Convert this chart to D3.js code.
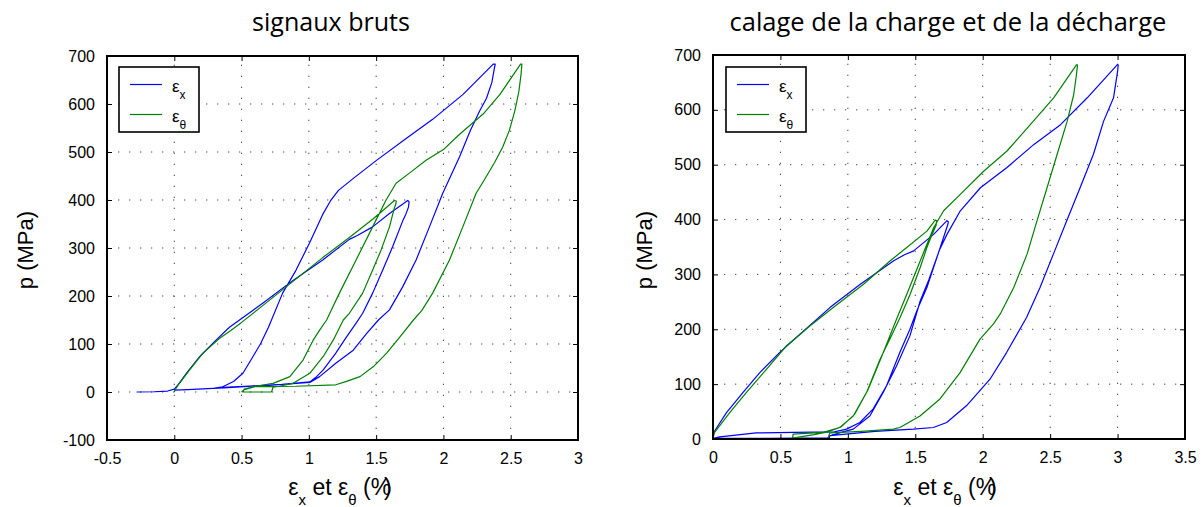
<!DOCTYPE html>
<html><head><meta charset="utf-8">
<script src="https://cdn.jsdelivr.net/npm/d3@7"></script>
<style>
body{margin:0;background:#fff}
svg text{font-family:"Liberation Sans",Arial,sans-serif;fill:#000}
</style>
</head><body>
<svg id="c" width="1204" height="507"></svg>
<script>
// ---------- data ----------
const titles = ["signaux bruts", "calage de la charge et de la décharge"];
const leftXTicks = [-0.5, 0, 0.5, 1, 1.5, 2, 2.5, 3];
const rightXTicks = [0, 0.5, 1, 1.5, 2, 2.5, 3, 3.5];
const leftYTicks = [-100, 0, 100, 200, 300, 400, 500, 600, 700];
const rightYTicks = [0, 100, 200, 300, 400, 500, 600, 700];
const seriesNames = ["x", "θ"];

// raw signals, eps_x : [strain %, p MPa]
const brutsEpsX = [
  [-0.28,0],[-0.15,0.5],[-0.05,2],[0,6],
  [0.03,16],[0.09,39],[0.19,74],[0.31,108],[0.41,135],[0.583,170],[0.657,185],[0.88,232],[1.103,275],[1.301,318],[1.36,326],[1.474,344],[1.599,372],[1.735,399],[1.745,396],
  [1.74,385],[1.72,370],[1.697,356],[1.623,303],[1.549,254],[1.474,206],[1.4,164],[1.355,145],[1.28,115],[1.2,81],[1.107,46],[1.05,30],[1.007,21],
  [0.8,16],[0.6,13],[0.4,10],[0.3,8],
  [0.36,11],[0.44,22],[0.51,39],[0.585,74],[0.64,100],[0.7,135],[0.805,206],[0.905,254],[1.004,310],[1.103,370],[1.16,398],[1.22,420],[1.326,444],[1.5,482],[1.723,528],[1.92,568],[2.146,620],[2.37,683],[2.385,683],
  [2.377,672],[2.36,645],[2.32,612],[2.27,586],[2.2,545],[2.12,490],[1.995,414],[1.896,344],[1.797,275],[1.697,219],[1.599,171],[1.517,150],[1.43,122],[1.33,87],[1.2,60],[1.08,32],[1.007,20],
  [0.7,14],[0.4,9],[0.1,5],[0,4]
];
// raw signals, eps_theta
const brutsEpsTheta = [
  [0,0],[0.01,6],
  [0.027,14],[0.114,46],[0.213,81],[0.337,112],[0.42,128],[0.5,145],[0.657,180],[0.88,230],[1.103,280],[1.301,322],[1.474,360],[1.574,384],[1.636,399],[1.65,398],
  [1.645,390],[1.636,384],[1.599,344],[1.537,296],[1.474,254],[1.4,206],[1.301,164],[1.256,150],[1.181,108],[1.107,74],[1.007,39],[0.883,18],[0.78,12],[0.734,10],[0.725,2],[0.72,0],
  [0.51,0],[0.52,6],[0.586,11],[0.734,18],[0.859,32],[0.958,67],[1.032,108],[1.08,129],[1.132,150],[1.227,206],[1.351,275],[1.474,344],[1.574,400],[1.648,435],[1.747,456],[1.871,483],[2.0,505],[2.12,537],[2.295,579],[2.42,620],[2.573,683],[2.583,683],
  [2.578,665],[2.56,625],[2.53,585],[2.49,545],[2.44,510],[2.38,478],[2.3,440],[2.243,414],[2.144,344],[2.045,275],[1.92,206],[1.84,170],[1.777,150],[1.677,115],[1.578,81],[1.48,53],[1.38,32],[1.28,22],[1.2,15],[0.9,12],[0.6,11],[0.52,5],[0.5,0]
];
// shifted ("calage"), eps_x
const calageEpsX = [
  [0,3],[0,10],[0.1,48],[0.223,85],[0.347,121],[0.495,158],[0.668,196],[0.869,240],[1.092,282],[1.34,325],[1.42,336],[1.488,343],[1.636,373],[1.735,398],[1.745,396],
  [1.74,390],[1.685,349],[1.636,313],[1.586,276],[1.512,234],[1.46,200],[1.386,158],[1.287,97],[1.188,55],[1.089,30],[0.99,18],[0.9,13],
  [0.6,12],[0.32,11],[0.05,4],[0,1],
  [0.4,1],[0.85,2],
  [0.87,6],[0.95,12],[1.04,18],[1.163,42],[1.262,85],[1.361,133],[1.46,188],[1.537,252],[1.6,290],[1.68,345],[1.735,373],[1.834,416],[1.983,458],[2.18,495],[2.38,537],[2.577,573],[2.775,622],[2.997,682],[3.005,682],
  [3.0,670],[2.97,622],[2.896,579],[2.821,519],[2.722,458],[2.623,398],[2.524,337],[2.425,276],[2.326,222],[2.178,158],[2.054,109],[1.881,61],[1.733,30],[1.634,21],[1.485,18],[1.2,14],[0.866,6],[0.86,0]
];
// shifted ("calage"), eps_theta
const calageEpsTheta = [
  [0,2],[0.012,12],[0.124,48],[0.248,85],[0.396,127],[0.545,170],[0.718,206],[0.894,240],[1.116,282],[1.314,325],[1.437,349],[1.586,379],[1.648,399],[1.658,398],
  [1.655,390],[1.62,370],[1.586,349],[1.537,313],[1.462,264],[1.388,222],[1.327,190],[1.238,145],[1.139,85],[1.04,42],[0.94,21],[0.817,12],[0.594,9],[0.59,1],
  [0.6,2],[0.75,8],[0.85,13],[0.95,22],[1.05,45],[1.15,90],[1.25,150],[1.36,218],[1.437,264],[1.537,325],[1.636,385],[1.71,416],[1.834,446],[2.007,488],[2.18,525],[2.353,573],[2.526,622],[2.695,682],[2.703,682],
  [2.695,664],[2.675,628],[2.626,579],[2.552,519],[2.477,458],[2.403,398],[2.329,337],[2.23,276],[2.13,228],[2.08,210],[1.98,182],[1.832,121],[1.683,73],[1.535,42],[1.386,21],[1.337,18],[1.1,14],[0.866,11],[0.854,2]
];

// ---------- drawing ----------
const svg = d3.select("#c");
const colors = ["#0000ff", "#008000"];
const fmt = d => String(d);

const panels = [
  {box:[107,578,56,440], xd:[-0.5,3], yd:[-100,700], xt:leftXTicks, yt:leftYTicks,
   series:[brutsEpsX, brutsEpsTheta], title:titles[0], tx:331, tw:158, xlab:340, ylab:33, leg:[119,67]},
  {box:[713,1185,55,439], xd:[0,3.5], yd:[0,700], xt:rightXTicks, yt:rightYTicks,
   series:[calageEpsX, calageEpsTheta], title:titles[1], tx:948, tw:437, xlab:945, ylab:652, leg:[726,67]}
];

panels.forEach((P, pi) => {
  const [x0,x1,y0,y1] = P.box;
  const x = d3.scaleLinear().domain(P.xd).range([x0,x1]);
  const y = d3.scaleLinear().domain(P.yd).range([y1,y0]);
  const g = svg.append("g");

  // grid
  const grid = g.append("g").attr("stroke","#444").attr("stroke-width",1).attr("stroke-dasharray","1.3,9.7");
  P.xt.slice(1,-1).forEach(v => grid.append("line").attr("x1",x(v)).attr("x2",x(v)).attr("y1",y1).attr("y2",y0));
  P.yt.slice(1,-1).forEach(v => grid.append("line").attr("y1",y(v)).attr("y2",y(v)).attr("x1",x0).attr("x2",x1));

  // data
  const clipId = "clip"+pi;
  svg.append("clipPath").attr("id",clipId).append("rect").attr("x",x0).attr("y",y0).attr("width",x1-x0).attr("height",y1-y0);
  const line = d3.line().x(d=>x(d[0])).y(d=>y(d[1]));
  P.series.forEach((s,i) => {
    g.append("path").attr("d",line(s)).attr("fill","none").attr("stroke",colors[i])
     .attr("stroke-width",1.2).attr("stroke-linejoin","round").attr("clip-path","url(#"+clipId+")");
  });

  // axes (bottom / left with labels, plus mirrored ticks)
  const ax = g.append("g").attr("transform",`translate(0,${y1})`)
    .call(d3.axisBottom(x).tickValues(P.xt).tickSizeInner(-5).tickSizeOuter(0).tickPadding(13).tickFormat(fmt));
  const axT = g.append("g").attr("transform",`translate(0,${y0})`)
    .call(d3.axisTop(x).tickValues(P.xt).tickSizeInner(-5).tickSizeOuter(0).tickFormat(""));
  const ay = g.append("g").attr("transform",`translate(${x0},0)`)
    .call(d3.axisLeft(y).tickValues(P.yt).tickSizeInner(-5).tickSizeOuter(0).tickPadding(12).tickFormat(fmt));
  const ayR = g.append("g").attr("transform",`translate(${x1},0)`)
    .call(d3.axisRight(y).tickValues(P.yt).tickSizeInner(-5).tickSizeOuter(0).tickFormat(""));
  [ax,axT,ay,ayR].forEach(a => {
    a.select(".domain").remove();
    a.selectAll("line").attr("stroke","#000").attr("stroke-width",1);
    a.selectAll("text").attr("font-size",16).attr("font-family","'Liberation Sans',Arial,sans-serif").attr("fill","#000");
  });
  ax.selectAll("text").attr("dy","0.71em");
  // frame
  g.append("rect").attr("x",x0).attr("y",y0).attr("width",x1-x0).attr("height",y1-y0)
    .attr("fill","none").attr("stroke","#000").attr("stroke-width",2);

  // title
  const t = g.append("text").attr("x",P.tx).attr("y",31).attr("text-anchor","middle")
    .style("font-family","'Open Sans','Noto Sans',sans-serif").attr("font-size",21).text(P.title);
  const len = t.node().getComputedTextLength();
  t.attr("font-size", 21*P.tw/len);

  // x label
  const xl = g.append("text").attr("x",P.xlab).attr("y",495).attr("text-anchor","middle").attr("font-size",23);
  xl.append("tspan").text("ε");
  xl.append("tspan").attr("font-size",15).attr("dy",10).text("x");
  xl.append("tspan").attr("dy",-10).text(" et ε");
  xl.append("tspan").attr("font-size",15).attr("dy",10).text("θ");
  xl.append("tspan").attr("dy",-10).attr("dx","0 0 0 -7").text(" (%)");

  // y label
  g.append("text").attr("transform",`translate(${P.ylab},250) rotate(-90)`).attr("text-anchor","middle")
    .attr("font-size",22).text("p (MPa)");

  // legend
  const [lx,ly] = P.leg;
  const lg = g.append("g");
  lg.append("rect").attr("x",lx).attr("y",ly).attr("width",80).attr("height",65)
    .attr("fill","#fff").attr("stroke","#000").attr("stroke-width",1.6);
  seriesNames.forEach((n,i) => {
    const yy = ly + 17.5 + i*30;
    lg.append("line").attr("x1",lx+11).attr("x2",lx+43).attr("y1",yy).attr("y2",yy)
      .attr("stroke",colors[i]).attr("stroke-width",1.2);
    const tt = lg.append("text").attr("x",lx+53).attr("y",yy+7).attr("font-size",17);
    tt.append("tspan").text("ε");
    tt.append("tspan").attr("font-size",12).attr("dy",7).text(n);
  });
});
</script>
</body></html>
